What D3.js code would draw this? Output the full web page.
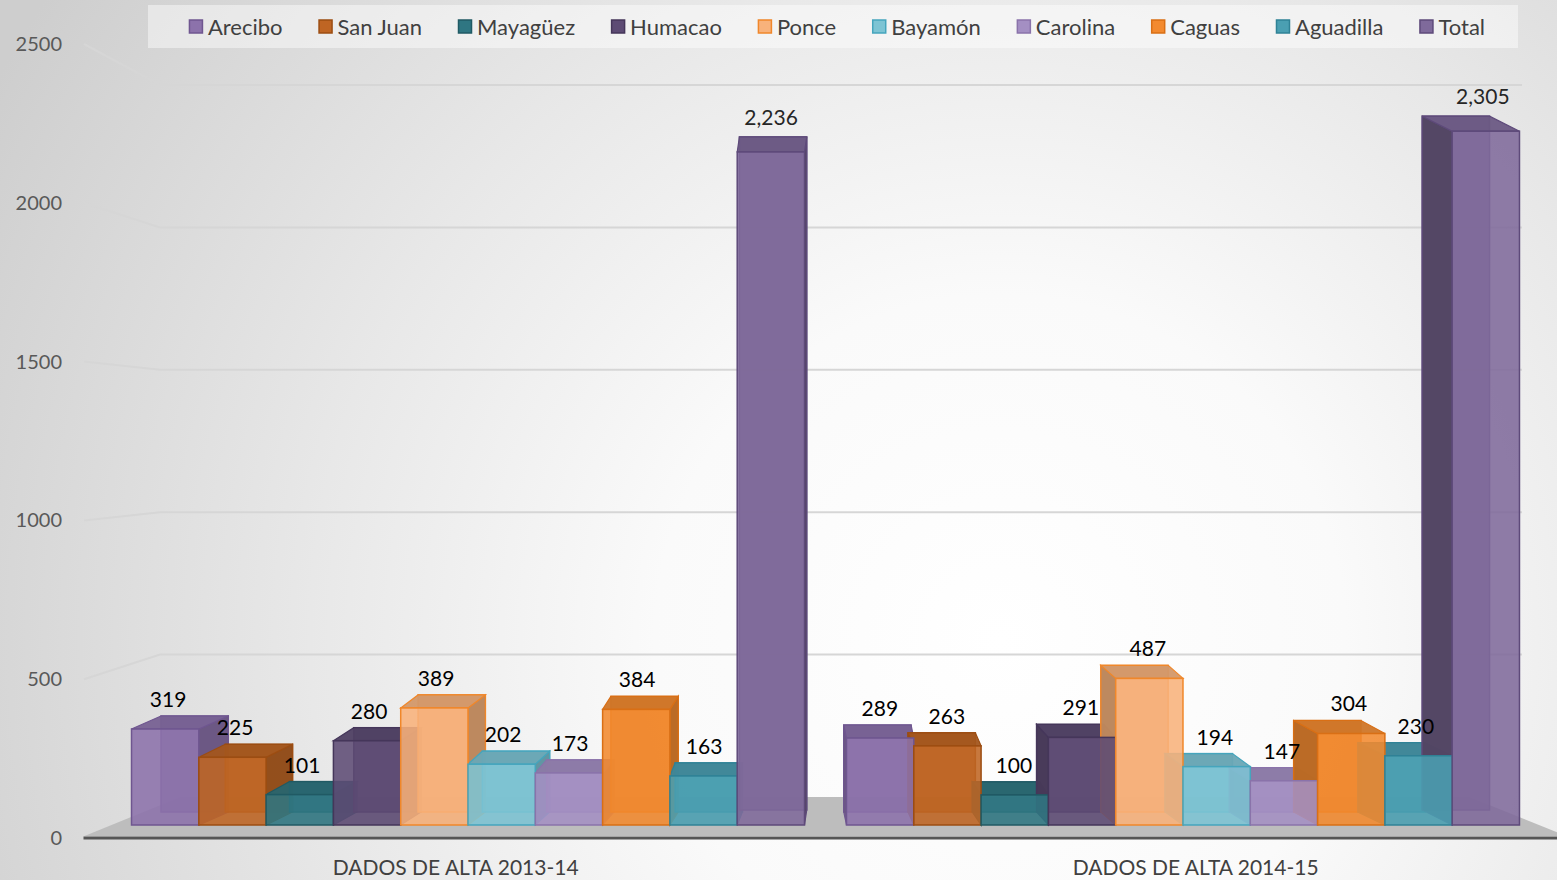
<!DOCTYPE html>
<html>
<head>
<meta charset="utf-8">
<script src="https://cdn.jsdelivr.net/npm/d3@7"></script>
<style>
  html, body { margin: 0; padding: 0; background: #e6e6e6; }
  svg { display: block; }
  text { font-family: Lato, "Noto Sans", sans-serif; }
</style>
</head>
<body>
<svg id="chart" width="1557" height="880"></svg>
<script>
// ---------- data ----------
const categories = ["DADOS DE ALTA 2013-14", "DADOS DE ALTA 2014-15"];
const seriesNames = ["Arecibo", "San Juan", "Mayagüez", "Humacao", "Ponce", "Bayamón", "Carolina", "Caguas", "Aguadilla", "Total"];
const values2013 = [319, 225, 101, 280, 389, 202, 173, 384, 163, 2236];
const values2014 = [289, 263, 100, 291, 487, 194, 147, 304, 230, 2305];
const yTicks = [0, 500, 1000, 1500, 2000, 2500];
const seriesColors = ["#8c72ab", "#bf6523", "#2f7682", "#5d4b74", "#f8b27b", "#7dc4d4", "#a48fc3", "#f38a2f", "#4a9fb2", "#7f6a9b"];
const seriesStrokes = ["#6f5690", "#9c4d12", "#205a64", "#45365a", "#f0872a", "#45a5bd", "#8a73aa", "#d96f15", "#2f8296", "#5e4a7a"];

const rows = [values2013, values2014];

// ---------- setup ----------
const W = 1557, H = 880;
const svg = d3.select("#chart");
const defs = svg.append("defs");
const bg = defs.append("radialGradient").attr("id", "bg")
  .attr("gradientUnits", "userSpaceOnUse")
  .attr("cx", 1000).attr("cy", 640).attr("r", 1150);
bg.append("stop").attr("offset", "0").attr("stop-color", "#ffffff");
bg.append("stop").attr("offset", "0.3").attr("stop-color", "#fafafa");
bg.append("stop").attr("offset", "0.6").attr("stop-color", "#e8e8e8");
bg.append("stop").attr("offset", "1").attr("stop-color", "#cecece");
svg.append("rect").attr("width", W).attr("height", H).attr("fill", "url(#bg)");

// scales
const x0 = d3.scaleBand().domain(categories).range([110.5, 1540.5]).paddingInner(0.0587).paddingOuter(0.0294);
const x1 = d3.scaleBand().domain(seriesNames).range([0, x0.bandwidth()]);
const y = d3.scaleLinear().domain([0, 2500]).range([825, 825 - 2500 * 0.301]);     // front plane of bars
const yWall = d3.scaleLinear().domain([0, 2500]).range([797, 85]);                  // back wall
const yLabel = d3.scaleLinear().domain([0, 2500]).range([838, 44]);                 // axis label positions

// pseudo perspective
const vx = 820, k = 0.045, depthY = -13;
const depthX = cx => -(cx - vx) * k;

// ---------- legend ----------
const legendG = svg.append("g");
legendG.append("rect").attr("x", 148).attr("y", 5).attr("width", 1370).attr("height", 43)
  .attr("fill", "#ffffff").attr("fill-opacity", 0.45);
const items = legendG.selectAll("g.item").data(seriesNames).join("g").attr("class", "item");
items.append("rect").attr("width", 13).attr("height", 13).attr("y", 20)
  .attr("fill", (d, i) => seriesColors[i]).attr("stroke", (d, i) => seriesStrokes[i]).attr("stroke-width", 1.5);
items.append("text").text(d => d).attr("y", 34.5).attr("font-size", 22).attr("fill", "#404040");
let widths = [];
items.each(function () { widths.push(this.querySelector("text").getComputedTextLength()); });
const gap = 36, markerW = 19;
const total = d3.sum(widths) + widths.length * markerW + (widths.length - 1) * gap;
let cursor = 837 - total / 2;
items.each(function (d, i) {
  d3.select(this).select("rect").attr("x", cursor + 0.5);
  d3.select(this).select("text").attr("x", cursor + markerW);
  cursor += markerW + widths[i] + gap;
});

// ---------- wall gridlines ----------
const grid = svg.append("g");
yTicks.filter(t => t > 0).forEach(t => {
  grid.append("path")
    .attr("d", `M${84},${yLabel(t)} L${160},${yWall(t)} L${1522},${yWall(t)}`)
    .attr("fill", "none").attr("stroke", "#d6d6d6").attr("stroke-width", 2);
});

// y labels
svg.append("g").selectAll("text").data(yTicks).join("text")
  .attr("x", 62).attr("y", d => yLabel(d)).attr("dy", "0.35em")
  .attr("text-anchor", "end").attr("font-size", 20).attr("fill", "#595959")
  .text(d => d);

// ---------- floor ----------
const fl = x0.range()[0], fr = x0.range()[1];
const floorFront = 836, floorBack = 797;
const slopeF = (floorFront - floorBack) / 13;
svg.append("path")
  .attr("d", `M${fl - 26},${floorFront} L${fl - 26 + depthX(fl) * slopeF},${floorBack} L${fr + 26 + depthX(fr) * slopeF},${floorBack} L${fr + 26},${floorFront} Z`)
  .attr("fill", "#bdbdbd");
svg.append("line").attr("x1", fl - 27).attr("x2", W).attr("y1", 838).attr("y2", 838)
  .attr("stroke", "#555555").attr("stroke-width", 3);

// ---------- bars ----------
const bars = [];
categories.forEach((c, gi) => {
  seriesNames.forEach((s, si) => {
    const v = rows[gi][si];
    const x = x0(c) + x1(s);
    const w = x1.bandwidth();
    const top = y(v), bot = y(0);
    const dx = depthX(x + w / 2), dy = depthY - (v > 1000 ? 2 : 0);
    bars.push({ c, s, si, v, x, w, top, bot, dx, dy });
  });
});

const gBack = svg.append("g");
const gFront = svg.append("g");

bars.forEach(b => {
  const col = d3.color(seriesColors[b.si]);
  const st = seriesStrokes[b.si];
  // back face
  gBack.append("rect").attr("x", b.x + b.dx).attr("y", b.top + b.dy).attr("width", b.w).attr("height", b.bot - b.top)
    .attr("fill", col.darker(0.3)).attr("fill-opacity", 0.85).attr("stroke", st).attr("stroke-width", 1.5);
  // side face
  const sx = b.dx > 0 ? b.x + b.w : b.x;
  gBack.append("path")
    .attr("d", `M${sx},${b.top} L${sx + b.dx},${b.top + b.dy} L${sx + b.dx},${b.bot + b.dy} L${sx},${b.bot} Z`)
    .attr("fill", col.darker(b.si === 9 ? 1.3 : 0.8)).attr("fill-opacity", 0.92).attr("stroke", st).attr("stroke-width", 1.2);
  // top face
  gBack.append("path")
    .attr("d", `M${b.x},${b.top} L${b.x + b.dx},${b.top + b.dy} L${b.x + b.w + b.dx},${b.top + b.dy} L${b.x + b.w},${b.top} Z`)
    .attr("fill", col.darker(0.45)).attr("fill-opacity", 0.95).attr("stroke", st).attr("stroke-width", 1.2);
});
bars.forEach(b => {
  const col = d3.color(seriesColors[b.si]);
  gFront.append("rect").attr("x", b.x).attr("y", b.top).attr("width", b.w).attr("height", b.bot - b.top)
    .attr("fill", col).attr("fill-opacity", 0.88).attr("stroke", seriesStrokes[b.si]).attr("stroke-width", 1.5);
});

// value labels
svg.append("g").selectAll("text").data(bars).join("text")
  .attr("x", b => b.x + b.w / 2 + b.dx * 0.1)
  .attr("y", b => b.top + b.dy - (b.v > 1000 ? 12 : 9))
  .attr("text-anchor", "middle").attr("font-size", 21)
  .attr("fill", b => b.si === 9 ? "#262626" : "#000000")
  .text(b => d3.format(",")(b.v));

// category labels
svg.append("g").selectAll("text").data(categories).join("text")
  .attr("x", c => vx + (x0(c) + x0.bandwidth() / 2 - vx) * 1.035)
  .attr("y", 875).attr("text-anchor", "middle").attr("font-size", 21).attr("fill", "#404040")
  .text(c => c);
</script>
</body>
</html>
